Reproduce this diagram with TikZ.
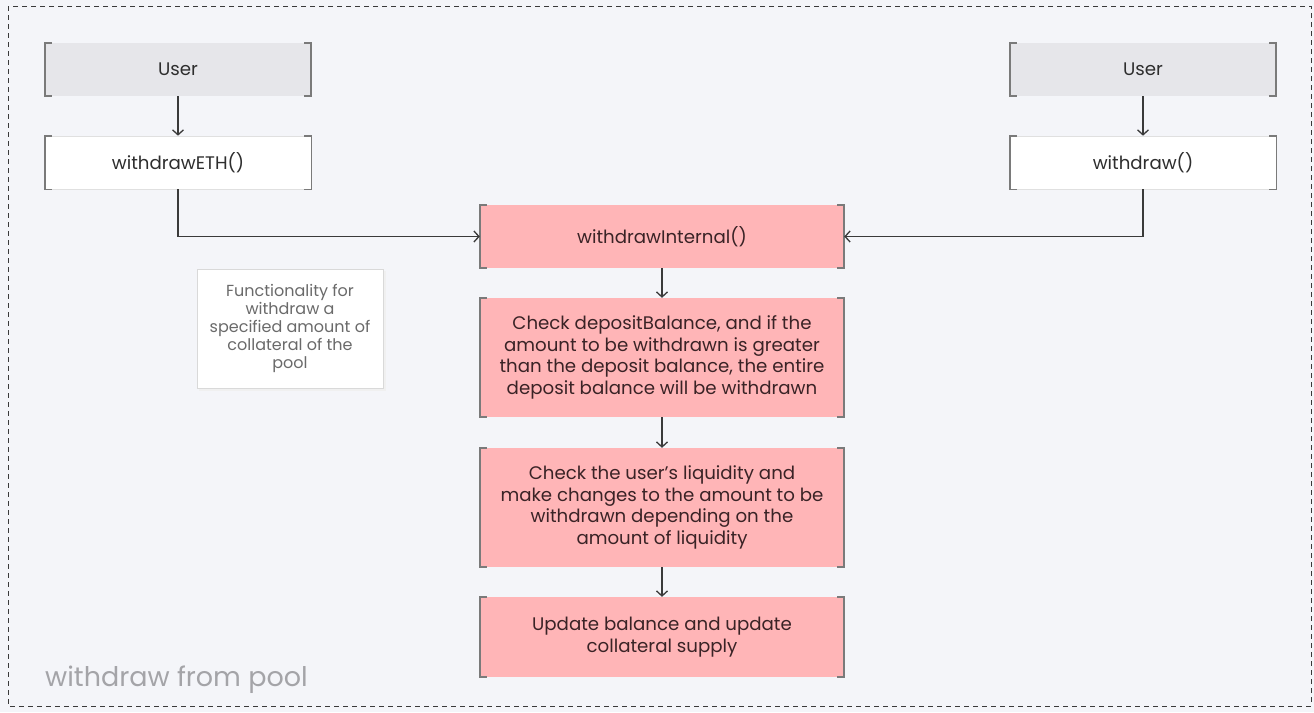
\documentclass[tikz,border=0pt]{standalone}
\usepackage{fontspec}
\setmainfont{Poppins}
\usetikzlibrary{arrows.meta}
\definecolor{canvas}{HTML}{F4F5F9}
\definecolor{userfill}{HTML}{E6E6EA}
\definecolor{stepfill}{HTML}{FFB5B7}
\definecolor{bracketcol}{HTML}{7A7A7A}
\definecolor{edgecol}{HTML}{3A3A3A}
\definecolor{inktext}{HTML}{2E2E2E}
\definecolor{steptext}{HTML}{3A2326}
\definecolor{notetext}{HTML}{6A6A6A}
\definecolor{titletext}{HTML}{A4A4A8}
\tikzset{
  basebox/.style={rectangle, inner sep=0pt, align=center, font=\fontsize{18.2}{21.5}\selectfont},
  userbox/.style={basebox, fill=userfill, text=inktext, minimum width=266pt, minimum height=53pt},
  callbox/.style={basebox, fill=white, draw=black!12, line width=0.6pt, text=inktext, minimum width=266pt, minimum height=53pt},
  pinkbox/.style={basebox, fill=stepfill, text=steptext, minimum width=364pt},
  notebox/.style={rectangle, inner sep=0pt, align=center, fill=white, draw=black!15, line width=0.8pt,
    text=notetext, minimum width=186pt, minimum height=119pt, font=\fontsize{16}{18.2}\selectfont},
  brk/.style={draw=bracketcol, line width=1.6pt},
  flow/.style={draw=edgecol, line width=1.3pt, -{Straight Barb[length=5pt,width=11pt,line width=1.3pt]}}
}
\begin{document}
\begin{tikzpicture}[x=1pt,y=-1pt]
  \useasboundingbox (0,0) rectangle (1314,712);
  \fill[canvas] (0,0) rectangle (1314,712);
  \draw[edgecol, line width=0.9pt, dash pattern=on 5pt off 4pt] (8,6) rectangle (1311,706);

  % entry points
  \node[userbox] (u1) at (178,69.5) {User};
  \node[callbox] (eth) at (178,162.5) {withdrawETH()};
  \node[userbox] (u2) at (1143,69.5) {User};
  \node[callbox] (wd) at (1143,162.5) {withdraw()};

  % internal steps
  \node[pinkbox, minimum height=63pt] (wi) at (662,236.5) {withdrawInternal()};
  \node[pinkbox, minimum height=119pt] (c1) at (662,357.5)
    {Check depositBalance, and if the\\amount to be withdrawn is greater\\than the deposit balance, the entire\\deposit balance will be withdrawn};
  \node[pinkbox, minimum height=119pt] (c2) at (662,507.5)
    {Check the user's liquidity and\\make changes to the amount to be\\withdrawn depending on the\\amount of liquidity};
  \node[pinkbox, minimum height=80pt] (up) at (662,637)
    {Update balance and update\\collateral supply};

  % side note with a soft drop shadow
  \fill[black!6] (199,271) rectangle (386,391);
  \node[notebox] (note) at (290,328.5)
    {Functionality for\\withdraw a\\specified amount of\\collateral of the\\pool};

  % bracket edges on every box
  \foreach \n in {u1,eth,u2,wd,wi,c1,c2,up} {
    \draw[brk] ([xshift=7pt]\n.north west) -- (\n.north west) -- (\n.south west) -- ([xshift=7pt]\n.south west);
    \draw[brk] ([xshift=-7pt]\n.north east) -- (\n.north east) -- (\n.south east) -- ([xshift=-7pt]\n.south east);
  }

  % connectors
  \draw[flow] (u1) -- (eth);
  \draw[flow] (u2) -- (wd);
  \draw[flow] (eth.south) |- (wi.west);
  \draw[flow] (wd.south) |- (wi.east);
  \draw[flow] (wi) -- (c1);
  \draw[flow] (c1) -- (c2);
  \draw[flow] (c2) -- (up);

  \node[anchor=west, text=titletext, font=\fontsize{27}{30}\selectfont, inner sep=0pt] (title) at (45,680) {withdraw from pool};
\end{tikzpicture}
\end{document}
